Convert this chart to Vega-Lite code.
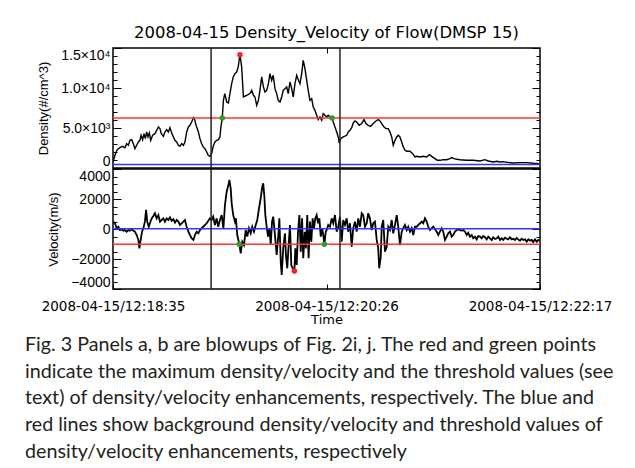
{
 "$schema": "https://vega.github.io/schema/vega-lite/v6.json",
 "padding": {"left": 25, "top": 24, "right": 5, "bottom": 0},
 "background": "white",
 "bounds": "flush",
 "spacing": 1,
 "config": {
  "view": {"stroke": "black", "strokeWidth": 1.5},
  "axis": {"labelFont": "Liberation Sans", "labelFontSize": 14, "labelColor": "black", "titleFont": "Liberation Sans", "titleFontSize": 13, "titleFontWeight": "normal", "titleColor": "black", "domain": false, "grid": false, "tickColor": "black", "tickWidth": 1}
 },
 "title": {
  "text": ["Fig. 3  Panels a, b are blowups of Fig. 2i, j. The red and green points", "indicate the maximum density/velocity and the threshold values (see", "text) of density/velocity enhancements, respectively. The blue and", "red lines show background density/velocity and threshold values of", "density/velocity enhancements, respectively"],
  "orient": "bottom", "anchor": "start", "frame": "group", "dx": -88, "offset": 8,
  "font": "Lato", "fontSize": 19.7, "fontWeight": "normal", "color": "#231f20", "lineHeight": 26.6
 },
 "datasets": {
  "dens": [{"t":0,"v":750},{"t":1.0,"v":1590},{"t":2.2,"v":2290},{"t":3.6,"v":2540},{"t":5.0,"v":2710},{"t":6.2,"v":2540},{"t":7.1,"v":3040},{"t":8.0,"v":2840},{"t":8.8,"v":3460},{"t":9.7,"v":3540},{"t":10.6,"v":3040},{"t":11.4,"v":2420},{"t":12.3,"v":2840},{"t":13.2,"v":3250},{"t":14.0,"v":3460},{"t":14.6,"v":4090},{"t":15.4,"v":3540},{"t":16.1,"v":4290},{"t":16.8,"v":3670},{"t":17.5,"v":4500},{"t":18.2,"v":3880},{"t":18.9,"v":4380},{"t":19.6,"v":3460},{"t":20.6,"v":4090},{"t":21.8,"v":4290},{"t":22.7,"v":4710},{"t":23.6,"v":5130},{"t":24.4,"v":4920},{"t":25.1,"v":4290},{"t":26.2,"v":3960},{"t":27.0,"v":4500},{"t":27.9,"v":4800},{"t":28.8,"v":4500},{"t":29.6,"v":5050},{"t":30.5,"v":4380},{"t":31.4,"v":3880},{"t":32.2,"v":3460},{"t":33.1,"v":3250},{"t":34.0,"v":2840},{"t":34.8,"v":2710},{"t":35.7,"v":3040},{"t":36.6,"v":2840},{"t":37.4,"v":3250},{"t":38.3,"v":4500},{"t":39.2,"v":5130},{"t":40.0,"v":5340},{"t":40.9,"v":5750},{"t":41.8,"v":6300},{"t":42.3,"v":6170},{"t":43.2,"v":5340},{"t":44.4,"v":4500},{"t":45.2,"v":3670},{"t":46.1,"v":3040},{"t":46.9,"v":2630},{"t":47.8,"v":2420},{"t":48.7,"v":2000},{"t":49.5,"v":1590},{"t":50.4,"v":1460},{"t":51.3,"v":1800},{"t":52.1,"v":2710},{"t":53.0,"v":3250},{"t":53.9,"v":3460},{"t":54.8,"v":3540},{"t":55.6,"v":3880},{"t":56.1,"v":5130},{"t":56.8,"v":6250},{"t":57.4,"v":8460},{"t":58.1,"v":9300},{"t":59.1,"v":8250},{"t":60.0,"v":8130},{"t":60.8,"v":9300},{"t":61.7,"v":10550},{"t":62.5,"v":11380},{"t":63.4,"v":11800},{"t":64.3,"v":12000},{"t":65.1,"v":12630},{"t":66.0,"v":14170},{"t":66.9,"v":12630},{"t":67.8,"v":8880},{"t":69.5,"v":9090},{"t":71.2,"v":9300},{"t":72.1,"v":9710},{"t":73.0,"v":9090},{"t":73.8,"v":8880},{"t":74.7,"v":7840},{"t":75.6,"v":8460},{"t":76.4,"v":9710},{"t":77.3,"v":11380},{"t":78.2,"v":10130},{"t":79.0,"v":9500},{"t":79.9,"v":9710},{"t":80.8,"v":10550},{"t":81.6,"v":11800},{"t":82.5,"v":10960},{"t":83.3,"v":11590},{"t":84.2,"v":9920},{"t":85.1,"v":9300},{"t":85.9,"v":8460},{"t":86.8,"v":8250},{"t":87.7,"v":8880},{"t":88.5,"v":9710},{"t":89.4,"v":9920},{"t":90.3,"v":10130},{"t":91.1,"v":9300},{"t":92.0,"v":10750},{"t":92.9,"v":9920},{"t":93.7,"v":8880},{"t":94.6,"v":10550},{"t":95.5,"v":11590},{"t":96.4,"v":10960},{"t":97.2,"v":10550},{"t":98.1,"v":11800},{"t":98.9,"v":13460},{"t":99.8,"v":12420},{"t":100.7,"v":10960},{"t":101.5,"v":9710},{"t":102.4,"v":8460},{"t":103.3,"v":8670},{"t":104.1,"v":7630},{"t":105.0,"v":7210},{"t":105.9,"v":6590},{"t":106.7,"v":6050},{"t":107.6,"v":6380},{"t":108.5,"v":5960},{"t":109.3,"v":6800},{"t":110.2,"v":6590},{"t":111.1,"v":6380},{"t":111.9,"v":6590},{"t":112.8,"v":6380},{"t":113.9,"v":6250},{"t":114.5,"v":5750},{"t":115.4,"v":5130},{"t":116.3,"v":4500},{"t":117.1,"v":3880},{"t":117.6,"v":3130},{"t":118.4,"v":3670},{"t":119.7,"v":3880},{"t":121.5,"v":4090},{"t":122.3,"v":4500},{"t":123.2,"v":4710},{"t":124.1,"v":5050},{"t":124.9,"v":5630},{"t":125.8,"v":5880},{"t":126.7,"v":5750},{"t":128.0,"v":5340},{"t":129.3,"v":5550},{"t":130.5,"v":6050},{"t":131.5,"v":5550},{"t":132.7,"v":5340},{"t":134.0,"v":5210},{"t":135.3,"v":5550},{"t":136.7,"v":5880},{"t":137.9,"v":6050},{"t":138.8,"v":5880},{"t":139.7,"v":5550},{"t":140.9,"v":5130},{"t":141.9,"v":4920},{"t":143.1,"v":4920},{"t":144.0,"v":4500},{"t":144.9,"v":3880},{"t":145.7,"v":2840},{"t":146.6,"v":3460},{"t":147.5,"v":3880},{"t":148.3,"v":4090},{"t":149.2,"v":3880},{"t":150.1,"v":3250},{"t":150.9,"v":2630},{"t":151.8,"v":2210},{"t":152.7,"v":2090},{"t":154.4,"v":2090},{"t":155.8,"v":1800},{"t":157.0,"v":1380},{"t":157.9,"v":1460},{"t":159.6,"v":1380},{"t":161.3,"v":1460},{"t":163.1,"v":1380},{"t":164.5,"v":1670},{"t":165.7,"v":1460},{"t":167.4,"v":1170},{"t":168.6,"v":960},{"t":170.0,"v":960},{"t":171.7,"v":1040},{"t":173.5,"v":1040},{"t":175.2,"v":1170},{"t":176.1,"v":1300},{"t":177.3,"v":1170},{"t":178.7,"v":1090},{"t":180.4,"v":1040},{"t":183.9,"v":960},{"t":187.3,"v":960},{"t":190.8,"v":880},{"t":193.4,"v":1040},{"t":195.1,"v":880},{"t":197.7,"v":750},{"t":199.5,"v":840},{"t":201.2,"v":750},{"t":202.9,"v":800},{"t":204.7,"v":710},{"t":208.1,"v":630},{"t":211.6,"v":670},{"t":215.0,"v":670},{"t":218.5,"v":590},{"t":221.6,"v":550}],
  "vel": [{"t":0.2,"v":490},{"t":1.0,"v":380},{"t":1.9,"v":50},{"t":2.8,"v":150},{"t":3.6,"v":-70},{"t":4.5,"v":-20},{"t":5.4,"v":-110},{"t":6.2,"v":-70},{"t":7.1,"v":-180},{"t":8.0,"v":-70},{"t":8.8,"v":-110},{"t":9.7,"v":-20},{"t":10.6,"v":-110},{"t":11.4,"v":-180},{"t":12.3,"v":-400},{"t":13.2,"v":-730},{"t":13.7,"v":-1290},{"t":14.4,"v":-730},{"t":15.1,"v":-180},{"t":15.8,"v":50},{"t":16.6,"v":490},{"t":17.2,"v":1270},{"t":17.8,"v":490},{"t":18.6,"v":150},{"t":19.2,"v":380},{"t":20.1,"v":710},{"t":21.0,"v":870},{"t":21.8,"v":1050},{"t":22.7,"v":710},{"t":23.6,"v":930},{"t":24.4,"v":490},{"t":25.3,"v":600},{"t":26.2,"v":710},{"t":27.0,"v":490},{"t":27.9,"v":710},{"t":28.8,"v":600},{"t":29.6,"v":780},{"t":30.5,"v":550},{"t":31.4,"v":650},{"t":32.2,"v":420},{"t":33.1,"v":600},{"t":34.0,"v":490},{"t":34.8,"v":270},{"t":35.7,"v":380},{"t":36.6,"v":490},{"t":37.4,"v":600},{"t":38.3,"v":150},{"t":39.2,"v":-180},{"t":40.0,"v":-400},{"t":40.9,"v":-620},{"t":41.8,"v":-730},{"t":42.6,"v":-400},{"t":43.5,"v":-180},{"t":44.4,"v":-290},{"t":45.2,"v":-70},{"t":46.9,"v":150},{"t":48.7,"v":380},{"t":50.4,"v":710},{"t":51.3,"v":600},{"t":52.1,"v":820},{"t":53.0,"v":270},{"t":53.9,"v":710},{"t":54.7,"v":150},{"t":55.6,"v":600},{"t":56.5,"v":930},{"t":57.4,"v":50},{"t":58.2,"v":1600},{"t":59.1,"v":2490},{"t":60.0,"v":2930},{"t":60.5,"v":3270},{"t":61.2,"v":2710},{"t":61.7,"v":1710},{"t":62.5,"v":930},{"t":63.4,"v":490},{"t":63.9,"v":710},{"t":64.6,"v":-400},{"t":65.7,"v":-1020},{"t":66.4,"v":-1620},{"t":67.2,"v":-850},{"t":68.1,"v":-1070},{"t":69.0,"v":-70},{"t":69.8,"v":-510},{"t":70.7,"v":50},{"t":71.6,"v":-290},{"t":72.4,"v":150},{"t":73.3,"v":-180},{"t":74.2,"v":270},{"t":75.0,"v":600},{"t":75.9,"v":1380},{"t":76.8,"v":2050},{"t":77.6,"v":2820},{"t":78.1,"v":3050},{"t":78.7,"v":2150},{"t":79.2,"v":930},{"t":79.9,"v":150},{"t":80.6,"v":-510},{"t":81.3,"v":50},{"t":82.0,"v":-1070},{"t":82.7,"v":490},{"t":83.3,"v":820},{"t":84.2,"v":-400},{"t":85.1,"v":-1730},{"t":85.9,"v":-510},{"t":86.5,"v":710},{"t":87.2,"v":-2180},{"t":87.7,"v":-3070},{"t":88.5,"v":-1290},{"t":89.4,"v":-290},{"t":89.9,"v":-1730},{"t":90.6,"v":-2620},{"t":91.3,"v":-1070},{"t":92.0,"v":270},{"t":92.7,"v":-2400},{"t":93.4,"v":-2620},{"t":94.3,"v":-2800},{"t":94.8,"v":-1290},{"t":95.5,"v":-2400},{"t":96.2,"v":-180},{"t":96.9,"v":930},{"t":97.6,"v":-1510},{"t":98.3,"v":710},{"t":98.9,"v":-1950},{"t":99.7,"v":-180},{"t":100.3,"v":-1290},{"t":101.0,"v":930},{"t":101.7,"v":-1950},{"t":102.4,"v":490},{"t":103.1,"v":-850},{"t":103.8,"v":710},{"t":104.5,"v":50},{"t":105.2,"v":710},{"t":105.9,"v":930},{"t":106.6,"v":380},{"t":107.3,"v":710},{"t":108.0,"v":-510},{"t":108.7,"v":50},{"t":109.3,"v":-400},{"t":109.9,"v":-1020},{"t":110.6,"v":-180},{"t":111.1,"v":-70},{"t":111.9,"v":270},{"t":112.8,"v":150},{"t":113.7,"v":710},{"t":114.5,"v":380},{"t":115.4,"v":930},{"t":116.3,"v":-180},{"t":117.1,"v":150},{"t":118.0,"v":820},{"t":118.9,"v":-850},{"t":119.7,"v":600},{"t":120.6,"v":270},{"t":121.5,"v":710},{"t":122.3,"v":-180},{"t":123.2,"v":380},{"t":124.1,"v":-1180},{"t":124.9,"v":50},{"t":125.8,"v":490},{"t":126.7,"v":-180},{"t":127.5,"v":710},{"t":128.4,"v":150},{"t":129.3,"v":1050},{"t":130.1,"v":930},{"t":131.0,"v":150},{"t":131.9,"v":380},{"t":132.7,"v":1050},{"t":133.6,"v":710},{"t":134.5,"v":-70},{"t":135.3,"v":380},{"t":136.2,"v":490},{"t":137.1,"v":-730},{"t":137.9,"v":-1290},{"t":138.4,"v":-2620},{"t":139.2,"v":-1850},{"t":139.7,"v":150},{"t":140.5,"v":600},{"t":141.4,"v":-1510},{"t":142.3,"v":-1180},{"t":143.1,"v":150},{"t":144.0,"v":-70},{"t":144.9,"v":600},{"t":145.7,"v":-290},{"t":146.6,"v":270},{"t":147.5,"v":930},{"t":148.3,"v":150},{"t":149.2,"v":-1070},{"t":150.1,"v":-180},{"t":150.9,"v":50},{"t":151.8,"v":270},{"t":152.7,"v":-70},{"t":153.5,"v":150},{"t":154.4,"v":-180},{"t":155.3,"v":50},{"t":156.1,"v":-400},{"t":157.0,"v":150},{"t":157.9,"v":150},{"t":158.7,"v":270},{"t":159.6,"v":380},{"t":160.5,"v":490},{"t":161.3,"v":380},{"t":162.2,"v":710},{"t":163.1,"v":490},{"t":163.9,"v":150},{"t":164.8,"v":-70},{"t":165.7,"v":50},{"t":166.5,"v":150},{"t":167.4,"v":-20},{"t":168.3,"v":-180},{"t":169.1,"v":-400},{"t":170.0,"v":-180},{"t":170.9,"v":50},{"t":171.7,"v":-180},{"t":172.6,"v":-730},{"t":173.5,"v":-510},{"t":174.3,"v":-290},{"t":175.2,"v":-180},{"t":176.1,"v":-510},{"t":176.9,"v":-400},{"t":177.8,"v":-180},{"t":178.7,"v":-70},{"t":179.5,"v":-20},{"t":180.4,"v":-70},{"t":181.3,"v":-110},{"t":182.1,"v":-70},{"t":183.0,"v":-180},{"t":183.9,"v":-400},{"t":184.7,"v":-250},{"t":185.6,"v":-510},{"t":186.5,"v":-400},{"t":187.3,"v":-620},{"t":188.2,"v":-510},{"t":189.1,"v":-690},{"t":189.9,"v":-470},{"t":190.8,"v":-510},{"t":191.7,"v":-620},{"t":192.5,"v":-470},{"t":193.4,"v":-550},{"t":194.3,"v":-690},{"t":195.1,"v":-510},{"t":196.0,"v":-620},{"t":196.9,"v":-730},{"t":197.7,"v":-550},{"t":198.6,"v":-670},{"t":199.5,"v":-620},{"t":200.3,"v":-510},{"t":201.2,"v":-730},{"t":202.1,"v":-620},{"t":202.9,"v":-730},{"t":203.8,"v":-580},{"t":204.7,"v":-650},{"t":205.5,"v":-690},{"t":206.4,"v":-550},{"t":207.3,"v":-690},{"t":208.1,"v":-650},{"t":209.0,"v":-730},{"t":209.9,"v":-600},{"t":210.7,"v":-690},{"t":211.6,"v":-780},{"t":212.5,"v":-650},{"t":213.3,"v":-730},{"t":214.2,"v":-690},{"t":215.1,"v":-850},{"t":215.9,"v":-690},{"t":216.8,"v":-780},{"t":217.7,"v":-730},{"t":218.5,"v":-870},{"t":219.4,"v":-690},{"t":220.3,"v":-850},{"t":221.1,"v":-730},{"t":221.6,"v":-780}],
  "vlines": [{"t": 51}, {"t": 118}],
  "hl_a": [{"v": 450, "kind": "background"}, {"v": 6250, "kind": "threshold"}],
  "hl_b": [{"v": 20, "kind": "background"}, {"v": -1020, "kind": "threshold"}],
  "pts_a": [{"t": 66.0, "v": 14170, "kind": "maximum"}, {"t": 56.8, "v": 6250, "kind": "threshold"}, {"t": 113.9, "v": 6250, "kind": "threshold"}],
  "pts_b": [{"t": 94.3, "v": -2800, "kind": "maximum"}, {"t": 65.7, "v": -1020, "kind": "threshold"}, {"t": 109.9, "v": -1020, "kind": "threshold"}]
 },
 "vconcat": [
  {
   "width": 427, "height": 120,
   "title": {"text": "2008-04-15 Density_Velocity of Flow(DMSP 15)", "font": "DejaVu Sans", "fontSize": 16.4, "fontWeight": "normal", "color": "black", "anchor": "middle", "offset": 6},
   "layer": [
    {
     "data": {"name": "dens"},
     "mark": {"type": "line", "color": "black", "strokeWidth": 1.4, "clip": true},
     "encoding": {
      "x": {"field": "t", "type": "quantitative", "scale": {"domain": [0, 222], "nice": false, "zero": false},
            "axis": {"orient": "top", "values": [111], "labels": false, "tickSize": -5, "title": null}},
      "y": {"field": "v", "type": "quantitative", "scale": {"domain": [0, 15000], "nice": false},
            "axis": {"orient": "left", "values": [0,1000,2000,3000,4000,5000,6000,7000,8000,9000,10000,11000,12000,13000,14000,15000],
                     "labelExpr": "datum.value == 0 ? '0' : datum.value == 5000 ? '5.0×10³' : datum.value == 10000 ? '1.0×10⁴' : datum.value == 15000 ? '1.5×10⁴' : ''",
                     "tickSize": {"condition": {"test": "datum.value % 5000 == 0", "value": -8}, "value": -4},
                     "labelPadding": 11, "labelFlush": true, "labelOverlap": false, "title": "Density(#/cm^3)", "titlePadding": 10}}
     }
    },
    {
     "data": {"name": "hl_a"},
     "mark": {"type": "rule", "strokeWidth": 1.5},
     "encoding": {
      "y": {"field": "v", "type": "quantitative",
            "axis": {"orient": "right", "values": [0,1000,2000,3000,4000,5000,6000,7000,8000,9000,10000,11000,12000,13000,14000,15000], "labels": false, "title": null,
                     "tickSize": {"condition": {"test": "datum.value % 5000 == 0", "value": -8}, "value": -4}}},
      "color": {"field": "kind", "type": "nominal", "scale": {"domain": ["background", "threshold"], "range": ["#3535ff", "#ff3535"]}, "legend": null}
     }
    },
    {
     "data": {"name": "vlines"},
     "mark": {"type": "rule", "color": "#222222", "strokeWidth": 1.5},
     "encoding": {"x": {"field": "t", "type": "quantitative"}}
    },
    {
     "data": {"name": "pts_a"},
     "mark": {"type": "circle", "size": 30, "opacity": 1},
     "encoding": {
      "x": {"field": "t", "type": "quantitative"},
      "y": {"field": "v", "type": "quantitative", "axis": null},
      "color": {"field": "kind", "type": "nominal", "scale": {"domain": ["maximum", "threshold"], "range": ["#ff2020", "#26a026"]}, "legend": null}
     }
    },
    {
     "mark": {"type": "text", "text": "a", "font": "Liberation Sans", "fontWeight": "bold", "fontSize": 20, "align": "left", "baseline": "alphabetic", "color": "black"},
     "encoding": {"x": {"datum": 4.5}, "y": {"datum": 12800, "axis": null}}
    }
   ],
   "resolve": {"scale": {"color": "independent"}, "axis": {"y": "independent"}}
  },
  {
   "width": 427, "height": 120,
   "layer": [
    {
     "data": {"name": "vel"},
     "mark": {"type": "line", "color": "black", "strokeWidth": 1.8, "clip": true},
     "encoding": {
      "x": {"field": "t", "type": "quantitative", "scale": {"domain": [0, 222], "nice": false, "zero": false},
            "axis": {"orient": "bottom", "values": [0, 111, 222], "tickSize": -5,
                     "labelExpr": "datum.value == 0 ? '2008-04-15/12:18:35' : datum.value == 111 ? '2008-04-15/12:20:26' : '2008-04-15/12:22:17'",
                     "labelFont": "DejaVu Sans", "labelFontSize": 13.5, "labelFlush": false, "labelOverlap": false, "labelPadding": 15,
                     "title": "Time", "titleFont": "DejaVu Sans", "titleFontSize": 13, "titlePadding": 1}},
      "y": {"field": "v", "type": "quantitative", "scale": {"domain": [-4000, 4000], "nice": false},
            "axis": {"orient": "left", "values": [-4000,-3500,-3000,-2500,-2000,-1500,-1000,-500,0,500,1000,1500,2000,2500,3000,3500,4000],
                     "labelExpr": "datum.value % 2000 == 0 ? format(datum.value, 'd') : ''",
                     "tickSize": {"condition": {"test": "datum.value % 2000 == 0", "value": -8}, "value": -4},
                     "labelPadding": 11, "labelFlush": true, "labelOverlap": false, "title": "Velocity(m/s)", "titlePadding": 10}}
     }
    },
    {
     "data": {"name": "hl_b"},
     "mark": {"type": "rule", "strokeWidth": 1.5},
     "encoding": {
      "y": {"field": "v", "type": "quantitative",
            "axis": {"orient": "right", "values": [-4000,-3500,-3000,-2500,-2000,-1500,-1000,-500,0,500,1000,1500,2000,2500,3000,3500,4000], "labels": false, "title": null,
                     "tickSize": {"condition": {"test": "datum.value % 2000 == 0", "value": -8}, "value": -4}}},
      "color": {"field": "kind", "type": "nominal", "scale": {"domain": ["background", "threshold"], "range": ["#3535ff", "#ff3535"]}, "legend": null}
     }
    },
    {
     "data": {"name": "vlines"},
     "mark": {"type": "rule", "color": "#222222", "strokeWidth": 1.5},
     "encoding": {"x": {"field": "t", "type": "quantitative"}}
    },
    {
     "data": {"name": "pts_b"},
     "mark": {"type": "circle", "size": 30, "opacity": 1},
     "encoding": {
      "x": {"field": "t", "type": "quantitative"},
      "y": {"field": "v", "type": "quantitative", "axis": null},
      "color": {"field": "kind", "type": "nominal", "scale": {"domain": ["maximum", "threshold"], "range": ["#ff2020", "#26a026"]}, "legend": null}
     }
    },
    {
     "mark": {"type": "text", "text": "b", "font": "Liberation Sans", "fontWeight": "bold", "fontSize": 20, "align": "left", "baseline": "alphabetic", "color": "black"},
     "encoding": {"x": {"datum": 4.5}, "y": {"datum": 2600, "axis": null}}
    }
   ],
   "resolve": {"scale": {"color": "independent"}, "axis": {"y": "independent"}}
  }
 ]
}
